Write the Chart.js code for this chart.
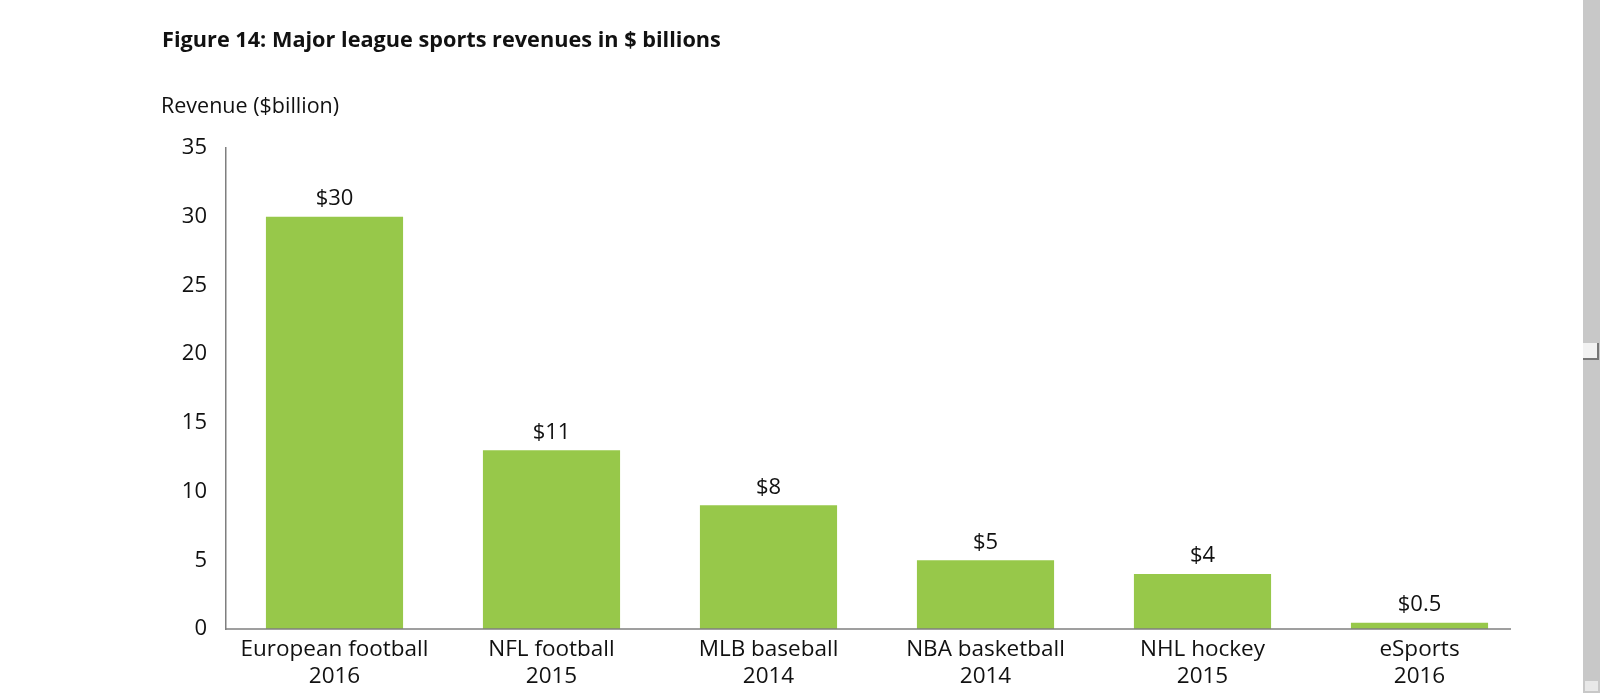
<!DOCTYPE html>
<html>
<head>
<meta charset="utf-8">
<script src="https://cdn.jsdelivr.net/npm/chart.js@4.4.1/dist/chart.umd.min.js"></script>
<style>
  html, body { margin: 0; padding: 0; background: #fff; overflow: hidden; }
  #wrap { position: relative; width: 1600px; height: 693px; }
  #title { position: absolute; left: 162px; top: 24px; font: bold 21.7px "Open Sans", sans-serif; color: #111; white-space: nowrap; }
  #ylabel { position: absolute; left: 161px; top: 90px; font: 500 21.5px "Open Sans", sans-serif; color: #111; white-space: nowrap; }
  #chart-box { position: absolute; left: 0; top: 0; width: 1583px; height: 693px; }
  #scroll { position: absolute; left: 1583px; top: 0; width: 17px; height: 693px; background: #c8c8c8; }
  #thumb { position: absolute; left: 0; top: 343px; width: 14px; height: 15px; background: #f2f2f2; border-right: 2px solid #777; border-bottom: 2px solid #777; }
  #arrow { position: absolute; left: 2px; bottom: 2px; width: 13px; height: 10px; background: #e8e8e8; }
</style>
</head>
<body>
<div id="wrap">
  <div id="chart-box"><canvas id="revenue-chart"></canvas></div>
  <div id="title">Figure 14: Major league sports revenues in $ billions</div>
  <div id="ylabel">Revenue ($billion)</div>
  <div id="scroll"><div id="thumb"></div><div id="arrow"></div></div>
</div>
<script>
let leagues = [['European football', '2016'], ['NFL football', '2015'], ['MLB baseball', '2014'], ['NBA basketball', '2014'], ['NHL hockey', '2015'], ['eSports', '2016']];
let revenues = [30, 13, 9, 5, 4, 0.45];
let value_labels = ['$30', '$11', '$8', '$5', '$4', '$0.5'];
let y_ticks = [0, 5, 10, 15, 20, 25, 30, 35];

const bar_labels = {
    id: 'bar_labels',
    afterDatasetsDraw(chart) {
        let ctx = chart.ctx;
        let meta = chart.getDatasetMeta(0);
        ctx.save();
        ctx.font = '500 22px "Open Sans", sans-serif';
        ctx.fillStyle = '#111';
        ctx.textAlign = 'center';
        ctx.textBaseline = 'middle';
        meta.data.forEach((bar, i) => {
            ctx.fillText(value_labels[i], bar.x, bar.y - 18);
        });
        ctx.restore();
    }
};

// x axis line stops a little short of the last category, as in the figure
const base_line = {
    id: 'base_line',
    afterDatasetsDraw(chart) {
        let ctx = chart.ctx;
        let area = chart.chartArea;
        let y0 = chart.scales.y.getPixelForValue(0);
        ctx.save();
        ctx.strokeStyle = '#7f7f7f';
        ctx.lineWidth = 1.5;
        ctx.beginPath();
        ctx.moveTo(area.left, y0);
        ctx.lineTo(area.right - 17, y0);
        ctx.stroke();
        ctx.restore();
    }
};

function plot_chart() {
    let ctx = document.getElementById('revenue-chart');
    new Chart(ctx, {
        type: 'bar',
        data: {
            labels: leagues,
            datasets: [
                {
                    data: revenues,
                    backgroundColor: '#97c84a',
                    borderWidth: 0,
                    categoryPercentage: 1,
                    barPercentage: 0.632,
                },
            ],
        },
        options: {
            responsive: true,
            maintainAspectRatio: false,
            animation: false,
            layout: { padding: { top: 148, right: 55, left: 0, bottom: 0 } },
            scales: {
                y: {
                    min: 0,
                    max: 35,
                    afterFit: (scale) => { scale.width = 226; },
                    afterBuildTicks: (scale) => { scale.ticks = y_ticks.map(v => ({ value: v })); },
                    grid: { display: false, drawTicks: false },
                    border: { display: true, color: '#7f7f7f', width: 1.5 },
                    ticks: { padding: 19, color: '#111', font: { family: 'Open Sans', size: 22, weight: 500 } },
                },
                x: {
                    afterFit: (scale) => { scale.height = 64; },
                    grid: { display: false, drawTicks: false },
                    border: { display: false },
                    ticks: { padding: 7, color: '#111', maxRotation: 0, font: { family: 'Open Sans', size: 22.5, weight: 500, lineHeight: 1.2 } },
                },
            },
            plugins: {
                legend: { display: false },
                tooltip: { enabled: false },
            },
        },
        plugins: [bar_labels, base_line],
    });
}
plot_chart();
</script>
</body>
</html>
